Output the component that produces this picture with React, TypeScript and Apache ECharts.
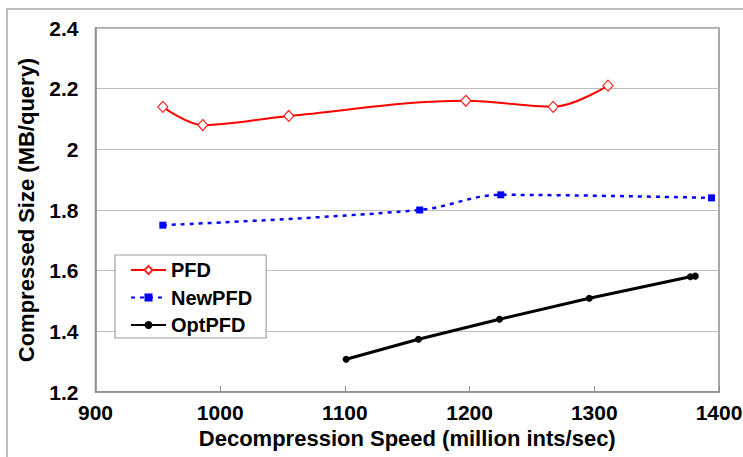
import React, { useEffect, useRef } from "react";
import * as echarts from "echarts";

const pfdX = [954, 986, 1055, 1197, 1267, 1311];
const pfdY = [2.14, 2.08, 2.11, 2.16, 2.14, 2.21];
const newPfdX = [954, 1160, 1225, 1394];
const newPfdY = [1.75, 1.8, 1.85, 1.84];
const optPfdX = [1101, 1159, 1224, 1296, 1377, 1381];
const optPfdY = [1.308, 1.374, 1.44, 1.509, 1.58, 1.582];
const seriesNames = ["PFD", "NewPFD", "OptPFD"];
const xTitle = "Decompression Speed (million ints/sec)";
const yTitle = "Compressed Size (MB/query)";

const FONT = "'Liberation Sans', Arial, sans-serif";

function pairs(xs: number[], ys: number[]) {
  return xs.map((x, i) => [x, ys[i]]);
}

export default function App() {
  const ref = useRef<HTMLDivElement>(null);
  useEffect(() => {
    document.body.style.margin = "0";
    const chart = echarts.init(ref.current!, null, { renderer: "svg" });
    chart.setOption({
      animation: false,
      backgroundColor: "#ffffff",
      textStyle: { fontFamily: FONT },
      graphic: [
        {
          type: "rect",
          shape: { x: 7, y: 9, width: 760, height: 470 },
          style: { fill: "none", stroke: "#a8a8a8", lineWidth: 1.5 },
          silent: true,
          z: -10,
        },
      ],
      grid: {
        left: 95.5,
        top: 28,
        right: 24,
        bottom: 65,
        outerBoundsMode: "none",
        containLabel: false,
        show: true,
        borderColor: "#8c8c8c",
        borderWidth: 1.5,
        backgroundColor: "transparent",
      },
      legend: {
        orient: "vertical",
        left: 115,
        top: 255,
        data: seriesNames,
        backgroundColor: "#ffffff",
        borderColor: "#a0a0a0",
        borderWidth: 1.2,
        padding: [5, 14, 3, 15],
        itemWidth: 35,
        itemHeight: 10,
        itemGap: 7.5,
        textStyle: {
          fontFamily: FONT,
          fontWeight: "bold",
          fontSize: 20,
          color: "#000",
          lineHeight: 20,
          padding: [0, 0, 0, 0],
        },
        z: 10,
      },
      xAxis: {
        type: "value",
        min: 900,
        max: 1400,
        interval: 100,
        name: xTitle,
        nameLocation: "middle",
        nameGap: 29,
        nameTextStyle: { fontFamily: FONT, fontWeight: "bold", fontSize: 22, color: "#000" },
        axisLine: { show: true, lineStyle: { color: "#8c8c8c", width: 1.5 } },
        axisTick: { show: true, inside: true, length: 6, lineStyle: { color: "#8c8c8c", width: 1 } },
        splitLine: { show: false },
        axisLabel: {
          margin: 10,
          fontFamily: FONT,
          fontWeight: "bold",
          fontSize: 21,
          color: "#000",
          formatter: (v: number) => String(v),
        },
      },
      yAxis: {
        type: "value",
        min: 1.2,
        max: 2.4,
        interval: 0.2,
        name: yTitle,
        nameLocation: "middle",
        nameGap: 58,
        nameRotate: 90,
        nameTextStyle: { fontFamily: FONT, fontWeight: "bold", fontSize: 22, color: "#000" },
        axisLine: { show: true, lineStyle: { color: "#8c8c8c", width: 1.5 } },
        axisTick: { show: false },
        splitLine: { show: true, lineStyle: { color: "#bdbdbd", width: 1.2 } },
        axisLabel: {
          margin: 17,
          fontFamily: FONT,
          fontWeight: "bold",
          fontSize: 21,
          color: "#000",
          formatter: (v: number) => String(Math.round(v * 10) / 10),
        },
      },
      series: [
        {
          name: seriesNames[0],
          type: "line",
          data: pairs(pfdX, pfdY),
          smooth: 0.35,
          symbol: "diamond",
          symbolSize: [10, 11],
          showAllSymbol: true,
          lineStyle: { color: "#ff0000", width: 2 },
          itemStyle: { color: "#ffffff", borderColor: "#ff2020", borderWidth: 1.2 },
          z: 3,
        },
        {
          name: seriesNames[1],
          type: "line",
          data: pairs(newPfdX, newPfdY),
          smooth: 0.35,
          symbol: "rect",
          symbolSize: 7,
          lineStyle: { color: "#0000ff", width: 2.5, type: [4, 5] },
          itemStyle: { color: "#0000ff" },
          z: 3,
        },
        {
          name: seriesNames[2],
          type: "line",
          data: pairs(optPfdX, optPfdY),
          smooth: false,
          symbol: "circle",
          symbolSize: 7,
          lineStyle: { color: "#000000", width: 3 },
          itemStyle: { color: "#000000" },
          z: 3,
        },
      ],
    });
    return () => chart.dispose();
  }, []);
  return (
    <div
      ref={ref}
      style={{ position: "absolute", left: 0, top: 0, width: 743, height: 457 }}
    />
  );
}
